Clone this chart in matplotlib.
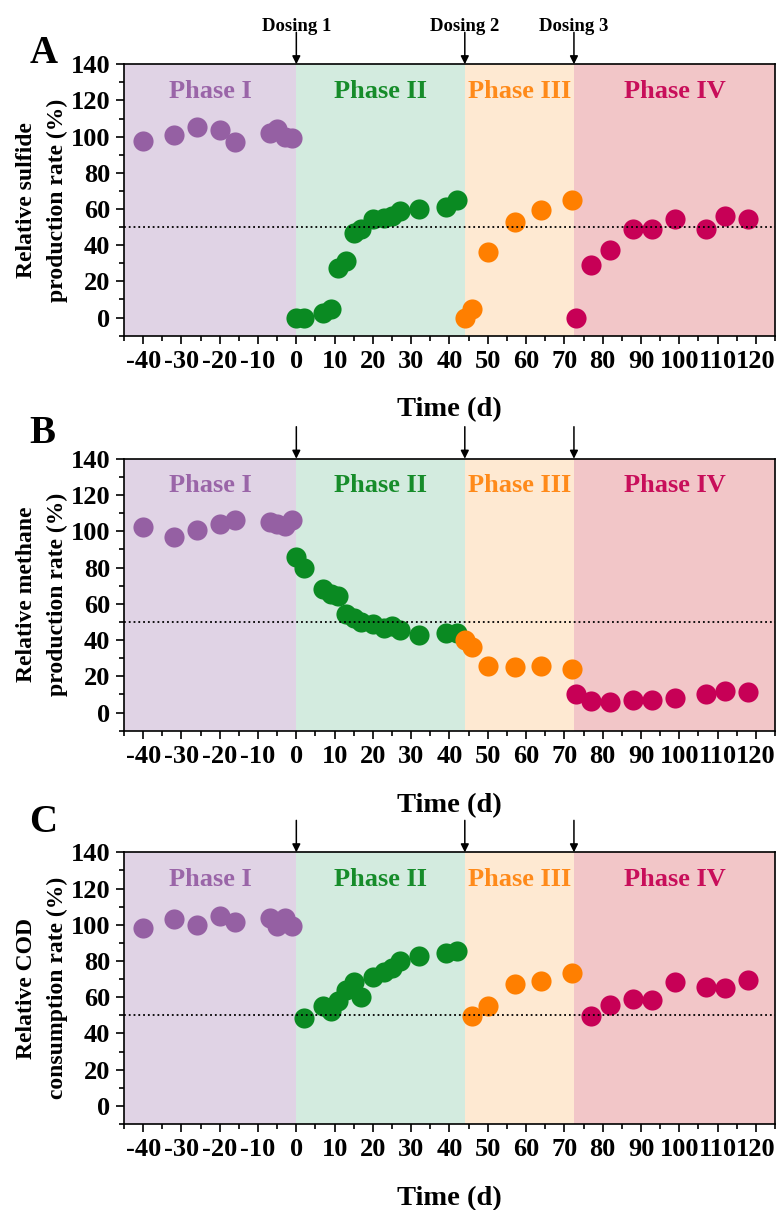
import numpy as np
import matplotlib
matplotlib.use('Agg')
import matplotlib.pyplot as plt
from matplotlib.ticker import MultipleLocator

plt.rcParams['font.family'] = 'Liberation Serif'
plt.rcParams['font.weight'] = 'bold'
plt.rcParams['axes.unicode_minus'] = False

# phase boundaries (d) and dosing days
phase_edges = [-45, 0, 44, 72.5, 125]
dosing_days = [0, 44, 72.5]
phase_names = ['Phase I', 'Phase II', 'Phase III', 'Phase IV']

# time points for each phase
t1 = [-40, -32, -26, -20, -16, -7, -5, -3, -1]
t2 = [0, 2, 7, 9, 11, 13, 15, 17, 20, 23, 25, 27, 32, 39, 42]
t3 = [44, 46, 50, 57, 64, 72]
t4 = [73, 77, 82, 88, 93, 99, 107, 112, 118]

# A: relative sulfide production rate (%)
sulf1 = [97.7, 100.7, 105.5, 103.4, 96.8, 102, 104, 100, 99]
sulf2 = [0, 0, 2.4, 4.6, 27.6, 31.2, 46.8, 48.7, 54.2, 55, 56, 58.8, 60, 61.2, 65.2]
sulf3 = [0, 4.6, 36.4, 52.9, 59.3, 65.2]
sulf4 = [0, 29, 37.3, 48.7, 49, 54.2, 49.2, 56, 54.7]

# B: relative methane production rate (%)
meth1 = [102.5, 96.6, 100.6, 103.9, 106.1, 104.9, 104, 102.8, 106]
meth2 = [85.9, 80, 68, 65.3, 64.2, 54.6, 51.9, 50, 49.1, 46.9, 47.6, 45.4, 42.7, 44.1, 44.1]
meth3 = [40.3, 36.2, 25.8, 25.2, 25.8, 24.3]
meth4 = [10.5, 6.4, 5.9, 6.8, 6.8, 8.1, 10.1, 11.8, 11.4]

# C: relative COD consumption rate (%)
cod1 = [98.2, 103.1, 100, 105, 101.8, 103.7, 99.4, 103.7, 99.4]
cod2 = [48.6, 55, 52.3, 57.8, 64.2, 68.3, 60, 71.2, 73.8, 76.1, 79.8, 82.9, 84.4, 85.3]
cod3 = [49.5, 55, 67.3, 69.2, 73.4]
cod4 = [49.5, 55.6, 59.1, 58.3, 68.3, 65.7, 65.1, 69.7]

bg_colors = ['#e0d3e5', '#d3ebdf', '#fee9d2', '#f2c6c8']
pt_colors = ['#9560a3', '#0a8a22', '#ff7f00', '#c70056']
txt_colors = ['#9a65a8', '#168c2a', '#ff8a1a', '#c80e5a']

panels = [
    ('A', 'Relative sulfide\nproduction rate (%)',
     [(t1, sulf1), (t2, sulf2), (t3, sulf3), (t4, sulf4)], True, 1.005),
    ('B', 'Relative methane\nproduction rate (%)',
     [(t1, meth1), (t2, meth2), (t3, meth3), (t4, meth4)], False, 1.058),
    ('C', 'Relative COD\nconsumption rate (%)',
     [(t1, cod1), (t2[1:], cod2), (t3[1:], cod3), (t4[1:], cod4)], False, 1.075),
]

fig = plt.figure(figsize=(7.77, 12.10), dpi=100)
boxes = [(0.1596, 0.7226, 0.8378, 0.2243),
         (0.1596, 0.3961, 0.8378, 0.2248),
         (0.1596, 0.0711, 0.8378, 0.2245)]

for (letter, ylab, series, show_dose_text, let_y), box in zip(panels, boxes):
    ax = fig.add_axes(box)
    ax.set_xlim(-45, 125)
    ax.set_ylim(-10, 140)

    for i in range(4):
        ax.axvspan(phase_edges[i], phase_edges[i + 1], color=bg_colors[i], lw=0, zorder=0)
        ax.text((phase_edges[i] + phase_edges[i + 1]) / 2, 125, phase_names[i],
                color=txt_colors[i], fontsize=19, fontweight='bold',
                ha='center', va='center', zorder=3)

    for (tx, ty), c in zip(series, pt_colors):
        ax.plot(tx, ty, 'o', color=c, markersize=14.5, markeredgewidth=0, zorder=2)

    ax.axhline(50, color='black', linestyle=':', linewidth=1.3, zorder=4)

    # dosing arrows above the top spine
    for k, d in enumerate(dosing_days):
        ax.annotate('', xy=(d, 140), xycoords='data',
                    xytext=(d, 140 + 32 / 1.814), textcoords='data',
                    arrowprops=dict(arrowstyle='-|>', color='black', lw=1.1,
                                    mutation_scale=12, shrinkA=0, shrinkB=0),
                    annotation_clip=False)
        if show_dose_text:
            ax.text(d, 140 + 38 / 1.814, 'Dosing %d' % (k + 1), ha='center', va='center',
                    fontsize=13.5, fontweight='bold', clip_on=False)

    ax.set_xticks(np.arange(-40, 121, 10))
    ax.xaxis.set_minor_locator(MultipleLocator(5))
    ax.set_yticks(np.arange(0, 141, 20))
    ax.yaxis.set_minor_locator(MultipleLocator(10))
    ax.tick_params(which='major', direction='out', length=6, width=1.2,
                   labelsize=19, pad=4)
    ax.tick_params(which='minor', direction='out', length=3.5, width=1.2)
    for lab in ax.get_xticklabels() + ax.get_yticklabels():
        lab.set_fontweight('bold')
    for sp in ax.spines.values():
        sp.set_linewidth(1.2)

    ax.set_xlabel('Time (d)', fontsize=20.5, fontweight='bold', labelpad=18)
    ax.set_ylabel(ylab, fontsize=17, fontweight='bold', labelpad=2, linespacing=1.6)
    ax.text(-0.145, let_y, letter, transform=ax.transAxes, fontsize=28,
            fontweight='bold', ha='left', va='baseline')

fig.savefig('out.png', dpi=100)
